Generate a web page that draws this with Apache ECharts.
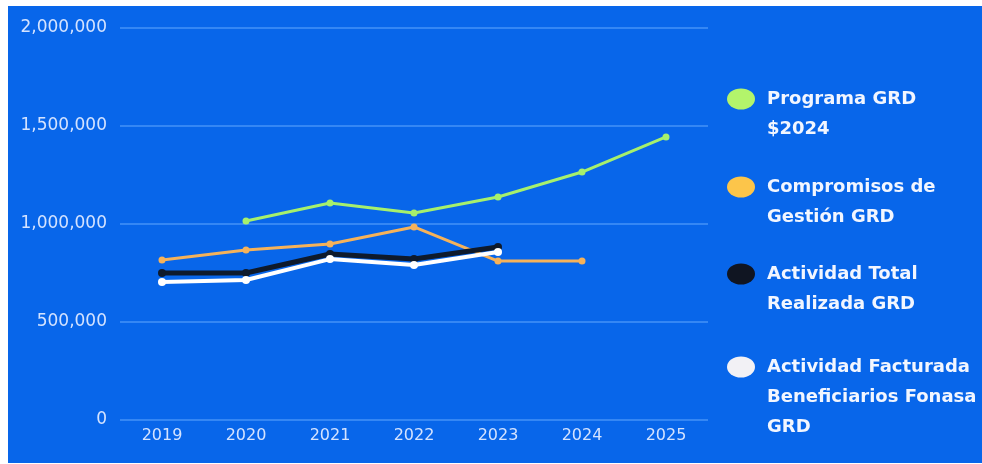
<!DOCTYPE html>
<html>
<head>
<meta charset="utf-8">
<script src="https://cdn.jsdelivr.net/npm/echarts@6/dist/echarts.min.js"></script>
<style>
  html, body { margin: 0; padding: 0; background: #ffffff; }
  #main {
    position: absolute;
    left: 8px;
    top: 6px;
    width: 974px;
    height: 457px;
    background: #0866ea;
  }
</style>
</head>
<body>
<div id="main"></div>
<script>
  // datos
  var years = ['2019', '2020', '2021', '2022', '2023', '2024', '2025'];
  var yTicks = [0, 500000, 1000000, 1500000, 2000000];

  var programaGRD = [null, 1015000, 1107000, 1056000, 1138000, 1265000, 1444000];
  var compromisosGRD = [816000, 867000, 898000, 985000, 811000, 811000, null];
  var actividadTotal = [750000, 750000, 847000, 821000, 883000, null, null];
  var actividadFacturada = [704000, 714000, 821000, 791000, 857000, null, null];

  var seriesNames = ['Programa GRD $2024', 'Compromisos de Gestión GRD', 'Actividad Total Realizada GRD', 'Actividad Facturada Beneficiarios Fonasa GRD'];
  var legendLabels = ['Programa GRD\n$2024', 'Compromisos de\nGestión GRD', 'Actividad Total\nRealizada GRD', 'Actividad Facturada\nBeneficiarios Fonasa\nGRD'];
  var lineColors = ['#a6f06c', '#f5b25a', '#0e1a2c', '#ffffff'];
  var iconColors = ['#b3f46b', '#fcc54a', '#101522', '#f2f1f5'];
  var legendCenters = [93, 181, 268, 361];

  var myChart = echarts.init(document.getElementById('main'));

  var lineH = 30;
  // ovalo de la leyenda
  var ovalIcon = 'path://M0,10.5A14,10.5,0,1,0,28,10.5A14,10.5,0,1,0,0,10.5Z';

  var legends = seriesNames.map(function (name, i) {
    var parts = legendLabels[i].split('\n');
    // lineas en blanco arriba para que el icono quede en la primera linea
    var text = new Array(parts.length).join(' \n') + parts.map(function (p) {
      return '{t|' + p + '}';
    }).join('\n');
    var total = parts.length * 2 - 1;
    return {
      show: true,
      orient: 'vertical',
      left: 719,
      top: legendCenters[i] - total * lineH / 2,
      padding: 0,
      itemWidth: 28,
      itemHeight: 21,
      symbolKeepAspect: false,
      selectedMode: false,
      formatter: function () { return text; },
      textStyle: {
        color: '#f2f6ff',
        fontFamily: 'DejaVu Sans',
        fontWeight: 'bold',
        fontSize: 18,
        lineHeight: lineH,
        rich: {
          t: {
            color: '#f2f6ff',
            fontFamily: 'DejaVu Sans',
            fontWeight: 'bold',
            fontSize: 18,
            lineHeight: lineH,
            padding: [0, 0, 0, 7]
          }
        }
      },
      data: [{
        name: name,
        icon: ovalIcon,
        itemStyle: { color: iconColors[i], borderWidth: 0 }
      }]
    };
  });

  function lineSeries(i, data, width, size) {
    return {
      name: seriesNames[i],
      type: 'line',
      data: data,
      symbol: 'circle',
      symbolSize: size,
      showSymbol: true,
      connectNulls: false,
      lineStyle: { color: lineColors[i], width: width },
      itemStyle: { color: lineColors[i] },
      emphasis: { disabled: true }
    };
  }

  myChart.setOption({
    animation: false,
    backgroundColor: '#0866ea',
    legend: legends,
    grid: {
      left: 112,
      right: 274,
      top: 22,
      bottom: 43
    },
    xAxis: {
      type: 'category',
      data: years,
      boundaryGap: true,
      axisLine: { show: false },
      axisTick: { show: false },
      axisLabel: {
        color: '#d4e3ff',
        fontFamily: 'DejaVu Sans',
        fontSize: 16,
        margin: 8
      }
    },
    yAxis: {
      type: 'value',
      min: yTicks[0],
      max: yTicks[yTicks.length - 1],
      interval: yTicks[1] - yTicks[0],
      axisLine: { show: false },
      axisTick: { show: false },
      splitLine: {
        lineStyle: { color: '#4593f7', width: 1.5 }
      },
      axisLabel: {
        color: '#d4e3ff',
        fontFamily: 'DejaVu Sans',
        fontSize: 17,
        margin: 13,
        formatter: function (v) { return v.toLocaleString('en-US'); }
      }
    },
    series: [
      lineSeries(1, compromisosGRD, 3, 7),
      lineSeries(0, programaGRD, 3, 7),
      lineSeries(2, actividadTotal, 5, 8),
      lineSeries(3, actividadFacturada, 4, 8)
    ]
  });
</script>
</body>
</html>
